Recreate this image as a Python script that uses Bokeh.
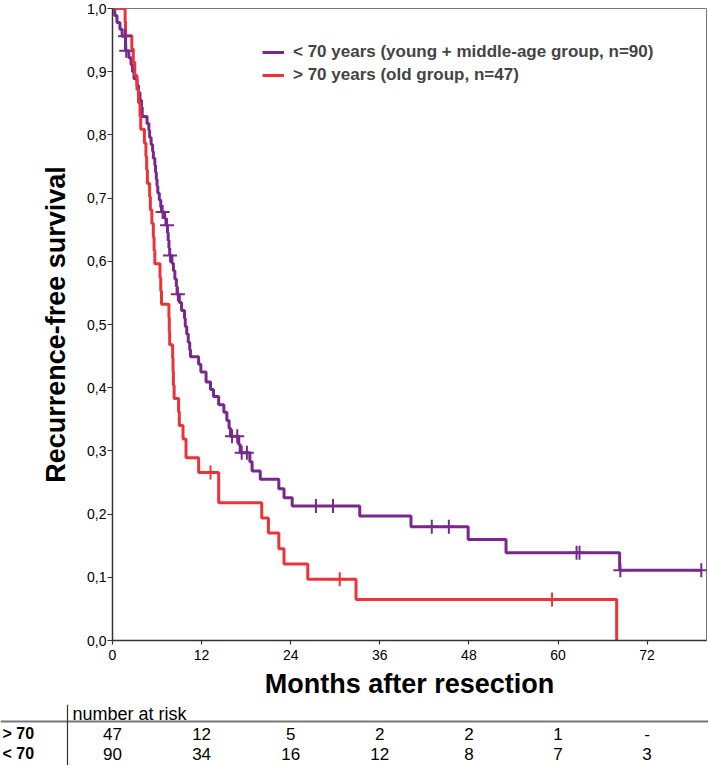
import numpy as np
from bokeh.plotting import figure
from bokeh.models import (Range1d, FixedTicker, CustomJSTickFormatter, Legend,
                          LegendItem, Span)
from bokeh.core.properties import value
from bokeh.embed import file_html
from bokeh.resources import INLINE

# ---------------- data ----------------
# < 70 years (young + middle-age group, n=90): event times (months) and survival after each step
young_t = [0, 0.3, 0.6, 1.0, 1.3, 1.75, 2.2, 2.5, 2.7, 2.9, 3.3, 3.5, 3.7, 3.9, 4.0, 4.65,
           4.9, 5.0, 5.2, 5.4, 5.5, 5.7, 5.8, 5.9, 6.0, 6.1, 6.3, 6.5, 6.6, 7.0, 7.2, 7.4,
           7.5, 7.6, 7.7, 8.0, 8.2, 8.4, 8.6, 8.7, 9.0, 9.3, 9.7, 9.8, 10.0, 10.2, 10.4,
           10.5, 11.6, 11.9, 12.6, 13.2, 13.6, 14.3, 15.0, 15.4, 15.7, 15.9, 17.0, 17.2,
           18.5, 18.8, 19.9, 22.4, 23.1, 24.2, 33.3, 40.2, 47.9, 53.0, 68.3, 79.3]
young_s = [1.0, 0.989, 0.978, 0.967, 0.956, 0.933, 0.922, 0.911, 0.900, 0.889, 0.878, 0.867,
           0.855, 0.844, 0.829, 0.818, 0.807, 0.796, 0.785, 0.774, 0.763, 0.752, 0.741, 0.730,
           0.719, 0.708, 0.697, 0.686, 0.678, 0.668, 0.657, 0.645, 0.633, 0.621, 0.609, 0.597,
           0.585, 0.572, 0.560, 0.548, 0.535, 0.522, 0.510, 0.497, 0.485, 0.472, 0.460, 0.449,
           0.437, 0.425, 0.409, 0.397, 0.386, 0.373, 0.361, 0.348, 0.336, 0.323, 0.310, 0.297,
           0.283, 0.268, 0.255, 0.240, 0.226, 0.213, 0.197, 0.180, 0.160, 0.139, 0.111, 0.111]
young_censored_t = [1.7, 1.85, 6.75, 7.35, 7.75, 8.8, 16.1, 16.8, 17.4, 18.1, 27.4, 29.7,
                    43.0, 45.3, 62.5, 62.9, 68.4, 79.3]

# > 70 years (old group, n=47)
old_t = [0, 1.7, 1.75, 2.6, 2.8, 3.0, 3.3, 3.5, 3.7, 3.8, 4.3, 4.5, 4.6, 4.7, 5.0, 5.1, 5.3,
         5.5, 5.6, 5.7, 6.4, 6.5, 6.6, 7.6, 7.65, 7.7, 8.1, 8.15, 8.2, 8.3, 8.9, 9.0, 9.5,
         9.9, 11.6, 14.3, 20.1, 21.0, 22.4, 23.1, 26.3, 32.8, 67.9]
old_s = [1.0, 0.979, 0.957, 0.936, 0.915, 0.894, 0.872, 0.851, 0.830, 0.809, 0.787, 0.766,
         0.745, 0.723, 0.702, 0.681, 0.660, 0.638, 0.617, 0.596, 0.574, 0.553, 0.532, 0.511,
         0.489, 0.468, 0.447, 0.426, 0.404, 0.383, 0.362, 0.340, 0.319, 0.289, 0.266, 0.218,
         0.194, 0.170, 0.145, 0.121, 0.097, 0.065, 0.0]
old_censored_t = [13.2, 30.6, 59.2]

x_ticks = [0, 12, 24, 36, 48, 60, 72]
y_ticks = [0.0, 0.1, 0.2, 0.3, 0.4, 0.5, 0.6, 0.7, 0.8, 0.9, 1.0]

risk_months = [0, 12, 24, 36, 48, 60, 72]
risk_old = ["47", "12", "5", "2", "2", "1", "-"]
risk_young = ["90", "34", "16", "12", "8", "7", "3"]
risk_row_labels = ["> 70", "< 70"]

label_young = "< 70 years (young + middle-age group, n=90)"
label_old = "> 70 years (old group, n=47)"

PURPLE = "#78288C"
RED = "#EC3338"
FONT = "Liberation Sans"


def surv_at(ts, ss, tc):
    idx = np.searchsorted(np.asarray(ts), np.asarray(tc), side="right") - 1
    return list(np.asarray(ss)[idx])


# ---------------- main KM plot ----------------
W = 708
X_MAX = 80
LEFT, RIGHT = 112, 2
p = figure(width=W, height=704, output_backend="svg", toolbar_location=None,
           x_range=Range1d(0, X_MAX), y_range=Range1d(0, 1),
           min_border_left=LEFT, min_border_right=RIGHT, min_border_top=8, min_border_bottom=64)
p.xgrid.visible = False
p.ygrid.visible = False
p.outline_line_color = "#777777"
p.outline_line_width = 1
p.background_fill_color = "white"
p.border_fill_color = "white"

r_young = p.step(young_t, young_s, mode="after", line_color=PURPLE, line_width=3)
r_old = p.step(old_t, old_s, mode="after", line_color=RED, line_width=3)

p.scatter(young_censored_t, surv_at(young_t, young_s, young_censored_t), marker="cross",
          size=14, line_color=PURPLE, line_width=2)
p.scatter(old_censored_t, surv_at(old_t, old_s, old_censored_t), marker="cross",
          size=14, line_color=RED, line_width=2)

for ax in (p.xaxis[0], p.yaxis[0]):
    ax.axis_line_color = "#333333"
    ax.axis_line_width = 1.5
    ax.major_tick_line_color = "#333333"
    ax.major_tick_line_width = 1.2
    ax.major_tick_in = 0
    ax.minor_tick_line_color = None
    ax.major_label_text_font = FONT
    ax.major_label_text_font_size = "14px"
    ax.major_label_text_color = "black"
    ax.axis_label_text_font = FONT
    ax.axis_label_text_font_style = "bold"
    ax.axis_label_text_color = "black"

p.xaxis.ticker = FixedTicker(ticks=x_ticks)
p.xaxis.major_tick_out = 4
p.xaxis.major_label_standoff = 5
p.xaxis.axis_label = "Months after resection"
p.xaxis.axis_label_text_font_size = "27px"
p.xaxis.axis_label_standoff = 6

p.yaxis.ticker = FixedTicker(ticks=y_ticks)
p.yaxis.formatter = CustomJSTickFormatter(code="return tick.toFixed(1).replace('.', ',');")
p.yaxis.major_tick_out = 5
p.yaxis.major_label_standoff = 1
p.yaxis.axis_label = "Recurrence-free survival"
p.yaxis.axis_label_text_font_size = "27px"
p.yaxis.axis_label_standoff = 13

legend = Legend(items=[LegendItem(label=label_young, renderers=[r_young]),
                       LegendItem(label=label_old, renderers=[r_old])],
                location=(150, 555))
legend.border_line_color = None
legend.background_fill_alpha = 0
legend.label_text_font = FONT
legend.label_text_font_style = "bold"
legend.label_text_font_size = "17px"
legend.glyph_width = 22
legend.glyph_height = 20
legend.label_standoff = 9
legend.spacing = 3
legend.padding = 10
legend.margin = 0
p.add_layout(legend)

# ---------------- number-at-risk table (separate root, full-width frame) ----------------
TH = 61
ppm = (W - RIGHT - LEFT) / X_MAX     # pixels per month, same as the KM plot
t = figure(width=W, height=TH, output_backend="svg", toolbar_location=None,
           x_range=Range1d(-LEFT / ppm, X_MAX + RIGHT / ppm), y_range=Range1d(TH, 0),
           min_border_left=0, min_border_right=0, min_border_top=0, min_border_bottom=0,
           x_axis_location=None, y_axis_location=None)
t.xgrid.visible = False
t.ygrid.visible = False
t.outline_line_color = None
t.background_fill_color = "white"
t.border_fill_color = "white"

row_y = [29, 49]
t.add_layout(Span(location=17, dimension="width", line_color="#777777", line_width=2))
t.add_layout(Span(location=-45 / ppm, dimension="height", line_color="#333333",
                  line_width=1.2))

t.text(x=[-40 / ppm], y=[9], text=["number at risk"], text_font=value(FONT),
       text_font_size="18px", text_align="left", text_baseline="middle", text_color="black")
t.text(x=[-110 / ppm] * 2, y=row_y, text=risk_row_labels, text_font=value(FONT),
       text_font_size="16px", text_font_style="bold", text_align="left",
       text_baseline="middle", text_color="black")
t.text(x=risk_months, y=[row_y[0]] * len(risk_months), text=risk_old, text_font=value(FONT),
       text_font_size="17px", text_align="center", text_baseline="middle", text_color="black")
t.text(x=risk_months, y=[row_y[1]] * len(risk_months), text=risk_young, text_font=value(FONT),
       text_font_size="17px", text_align="center", text_baseline="middle", text_color="black")

open("out.html", "w").write(file_html([p, t], INLINE))
